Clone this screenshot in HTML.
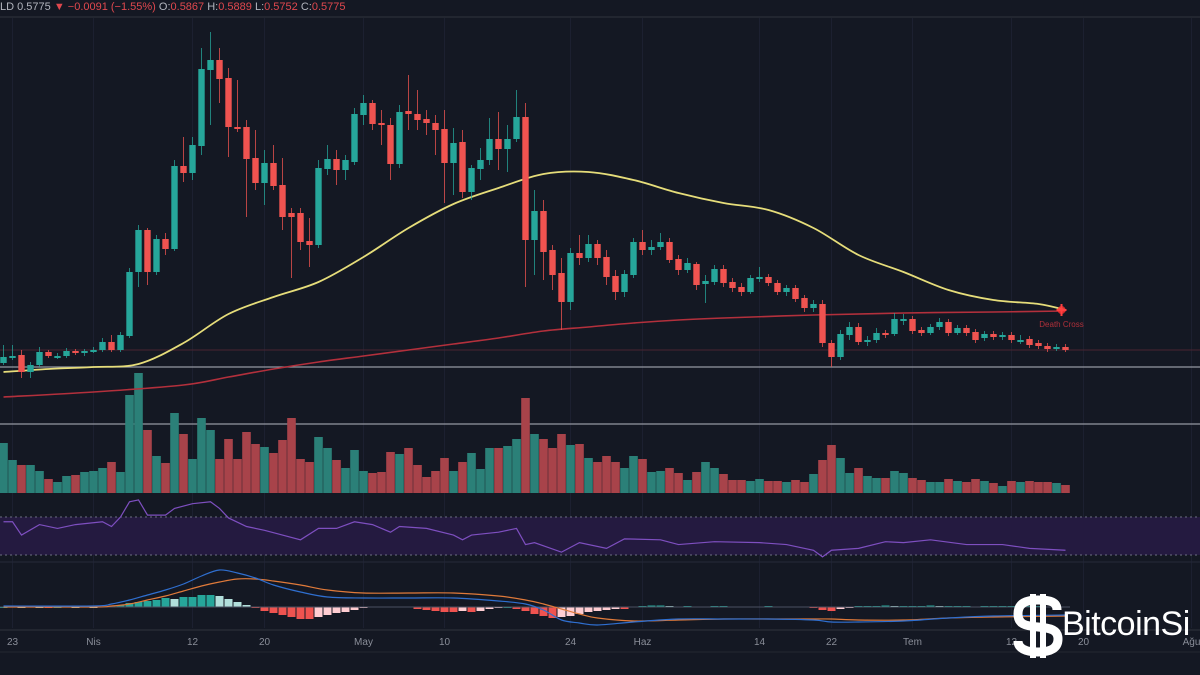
<!DOCTYPE html>
<html><head><meta charset="utf-8">
<style>
html,body{margin:0;padding:0;background:#141823;}
#wrap{position:relative;width:1200px;height:675px;overflow:hidden;background:#141823;font-family:"Liberation Sans",sans-serif;}
svg{position:absolute;left:0;top:0;}
#hdr{position:absolute;left:0;top:0;font-size:11px;color:#b2b5be;white-space:nowrap;line-height:14px;top:0px;}
#hdr .r{color:#e0484e;}
#logo{position:absolute;left:1013px;top:594px;color:#fff;}
#logo-text{position:absolute;left:1062px;top:605px;font-size:34px;color:#fff;letter-spacing:-0.5px;font-family:"Liberation Sans",sans-serif;}
</style></head>
<body>
<div id="wrap">
<svg id="chart" width="1200" height="675"></svg>
<div id="hdr">LD 0.5775 <span class="r">▼ −0.0091 (−1.55%)</span> O:<span class="r">0.5867</span> H:<span class="r">0.5889</span> L:<span class="r">0.5752</span> C:<span class="r">0.5775</span></div>
<svg id="logo" width="50" height="64" viewBox="0 0 50 64">
<rect x="17" y="0" width="6" height="64" fill="#fff"/><rect x="27" y="0" width="6" height="64" fill="#fff"/>
<path d="M44 16 C44 8 38 6 25 6 C10 6 5 11 5 20 C5 30 12 32 25 33 C38 34 45 36 45 45 C45 54 38 58 25 58 C12 58 5 54 5 47" fill="none" stroke="#fff" stroke-width="9"/>
</svg>
<div id="logo-text">BitcoinSi</div>
</div>
<script>
const opens=[.537,.543,.545,.528,.535,.548,.543,.544,.549,.547,.549,.550,.558,.550,.564,.628,.670,.628,.661,.651,.734,.727,.754,.830,.840,.822,.773,.773,.742,.717,.737,.715,.687,.687,.659,.655,.731,.741,.730,.738,.785,.797,.777,.775,.736,.789,.786,.781,.777,.771,.737,.758,.708,.731,.740,.761,.751,.761,.783,.660,.689,.650,.627,.598,.647,.642,.656,.643,.624,.608,.625,.658,.650,.653,.658,.641,.630,.636,.616,.618,.631,.618,.613,.608,.621,.623,.617,.608,.612,.602,.592,.596,.557,.543,.565,.573,.558,.560,.567,.566,.580,.581,.570,.567,.573,.578,.567,.572,.568,.562,.566,.563,.565,.560,.561,.557,.554,.552,.553];
const closes=[.543,.544,.528,.535,.548,.544,.544,.549,.547,.549,.550,.558,.550,.565,.628,.670,.628,.661,.651,.734,.727,.755,.831,.840,.821,.773,.771,.741,.717,.737,.714,.683,.683,.658,.655,.732,.741,.730,.740,.786,.797,.776,.776,.736,.788,.786,.780,.777,.770,.737,.757,.708,.732,.740,.761,.751,.761,.783,.660,.689,.648,.625,.598,.647,.642,.656,.642,.623,.608,.626,.658,.650,.653,.658,.640,.630,.637,.615,.619,.631,.617,.612,.608,.622,.623,.617,.608,.612,.601,.592,.596,.557,.543,.566,.573,.558,.560,.567,.565,.581,.581,.569,.567,.573,.578,.567,.572,.567,.560,.566,.563,.565,.560,.560,.555,.554,.551,.553,.550];
const highs=[.555,.555,.550,.538,.553,.550,.547,.552,.551,.551,.553,.562,.565,.568,.632,.675,.672,.665,.667,.740,.763,.763,.852,.868,.852,.832,.820,.780,.770,.750,.755,.742,.692,.692,.682,.740,.755,.750,.745,.792,.805,.800,.790,.782,.795,.825,.810,.790,.785,.790,.772,.770,.735,.752,.782,.788,.775,.810,.797,.710,.700,.655,.642,.652,.665,.665,.660,.650,.630,.630,.662,.670,.660,.667,.662,.645,.642,.638,.625,.635,.635,.622,.617,.625,.633,.626,.620,.615,.615,.605,.600,.600,.560,.570,.578,.577,.564,.572,.570,.587,.586,.584,.573,.576,.582,.581,.575,.575,.571,.569,.569,.568,.568,.565,.564,.560,.557,.556,.556];
const lows=[.535,.540,.522,.522,.533,.542,.541,.542,.545,.544,.547,.548,.548,.548,.562,.613,.615,.625,.645,.649,.718,.720,.745,.775,.797,.743,.768,.683,.710,.695,.710,.670,.622,.650,.633,.652,.725,.715,.720,.735,.775,.770,.755,.720,.732,.770,.770,.765,.745,.697,.705,.702,.700,.720,.735,.730,.728,.758,.613,.625,.620,.610,.570,.590,.635,.638,.635,.615,.600,.603,.622,.645,.645,.650,.637,.625,.627,.610,.597,.615,.613,.608,.604,.606,.618,.614,.605,.604,.598,.588,.588,.553,.533,.540,.560,.555,.554,.557,.562,.564,.575,.566,.564,.565,.570,.564,.565,.564,.557,.559,.560,.560,.557,.556,.552,.551,.548,.549,.548];
const volumes=[50,33,28,28,22,14,11,17,18,21,22,25,31,21,98,120,63,37,30,80,59,34,75,63,34,54,34,61,49,46,40,53,75,34,31,56,45,33,25,43,22,20,21,41,39,45,28,16,22,35,22,31,40,24,45,45,47,54,95,59,54,45,59,48,49,35,31,37,31,25,37,34,21,22,25,20,13,21,31,25,19,13,13,12,14,12,12,11,13,11,19,33,48,35,20,25,17,15,15,22,20,15,13,11,11,14,12,11,14,12,10,7,12,11,12,11,11,10,8];
const ma50Idx=[0,5,10,15,20,25,30,35,40,45,50,55,60,65,70,75,80,85,90,95,100,105,110,115,118];
const ma50Vals=[.528,.531,.533,.536,.557,.586,.603,.618,.643,.672,.696,.712,.726,.728,.720,.707,.697,.690,.672,.645,.628,.610,.600,.596,.590];
const ma200Idx=[0,10,20,25,30,35,40,45,50,55,60,65,70,75,80,90,100,110,118];
const ma200Vals=[.503,.508,.515,.523,.531,.538,.544,.550,.556,.562,.569,.573,.577,.580,.582,.585,.587,.588,.589];
const rsiIdx=[0,1,2,4,6,8,11,12,13,14,15,16,18,19,21,23,24,25,27,29,31,33,35,37,39,41,43,44,47,50,51,52,55,57,58,59,62,64,67,69,73,75,79,84,87,90,91,92,95,98,100,103,107,111,114,118];
const rsiVals=[65,65,51,62,58,62,65,60,70,86,88,72,72,79,84,86,79,69,60,56,51,46,58,58,65,62,54,60,58,51,46,51,54,58,41,43,33,43,37,47,46,41,44,43,41,35,28,35,37,44,43,46,41,41,37,35];
const macdIdx=[0,10,12,14,16,18,20,22,24,26,28,30,33,36,40,45,50,55,58,60,62,64,66,70,75,80,85,90,92,95,100,105,110,118];
const macdVals=[1,1,3,7,12,17,23,31,37,34,29,22,15,10,9,9,9,6,3,-3,-13,-16,-18,-15,-12,-12,-12,-13,-15,-15,-14,-11,-9,-8];
const signalVals=[0,0,1,3,7,11,16,21,25,28,28,26,22,17,14,14,14,11,7,3,-2,-7,-11,-14,-13,-12,-12,-12,-12,-13,-13,-11,-10,-9];
const histVals=[0,.5,0,.5,0,-.5,0,.5,0,.5,0,.5,1,2,4,5,6,7,9,8,10,10,12,12,11,8,5,2,-1,-4,-6,-8,-10,-12,-12,-10,-8,-6,-5,-3,-1,.5,.5,.5,.5,.5,-2,-3,-4,-5,-5,-4,-5,-4,-2,-1,0,-2,-4,-7,-9,-11,-10,-9,-7,-5,-4,-3,-2,-2,.5,1,1.5,1.5,1,.5,1,.5,.5,1,1,.5,.5,.5,.5,1,.5,.5,.5,.5,-1,-3,-4,-2,-1,1,1,1,1.5,1,1,1,1,1.5,1,1,1,1,.5,1,1,1,1,.5,1,1,.5,.5,.5];
const tickLabels=["23","Nis","12","20","May","10","24","Haz","14","22","Tem","12","20","Ağu"];
const tickIdx=[1,10,21,29,40,49,63,71,84,92,101,112,120,132];

const NS="http://www.w3.org/2000/svg";
const svg=document.getElementById('chart');
function el(tag,attrs,parent){const e=document.createElementNS(NS,tag);for(const k in attrs)e.setAttribute(k,attrs[k]);(parent||svg).appendChild(e);return e;}
const xOf=i=>3.5+9*i;
const yPrice=p=>900-1000*p;
const yVol=v=>493-v;
const yRsi=v=>517+(70-v)*0.95;
const yMacd=v=>607-v;
const UP="#26a69a",DN="#ef5350";

// grid
tickIdx.forEach((t,k)=>{const g=el('line',{x1:xOf(t),x2:xOf(t),y1:18,y2:628,stroke:'#1c2030','stroke-width':1});

});
// RSI band
const band=el('rect',{x:0,y:517,width:1200,height:38,fill:'#241a40'});


[517,555].forEach(y=>{const l=el('line',{x1:0,x2:1200,y1:y,y2:y,stroke:'#6b6f80','stroke-width':1,'stroke-dasharray':'2 3'});

});
// separators
[[17,'#2a2e39'],[367,'#9598a1'],[424,'#9598a1'],[562,'#232736'],[630,'#2a2e39'],[652,'#22262f']].forEach(a=>{const l=el('line',{x1:0,x2:1200,y1:a[0],y2:a[0],stroke:a[1],'stroke-width':1.2});

});
const pl=el('line',{x1:0,x2:1200,y1:yPrice(closes[closes.length-1]),y2:yPrice(closes[closes.length-1]),stroke:'#4a2430','stroke-width':1});



// volume
volumes.forEach((v,i)=>{const r=el('rect',{x:xOf(i)-4.3,y:yVol(v),width:8.6,height:v,fill:closes[i]>=opens[i]?'#2b8078':'#a8434a'});

});

function smooth(pts){let d='M'+pts[0][0]+' '+pts[0][1];for(let i=0;i<pts.length-1;i++){const p0=pts[i-1]||pts[i],p1=pts[i],p2=pts[i+1],p3=pts[i+2]||p2;
const c1=[p1[0]+(p2[0]-p0[0])/6,p1[1]+(p2[1]-p0[1])/6],c2=[p2[0]-(p3[0]-p1[0])/6,p2[1]-(p3[1]-p1[1])/6];
d+=` C${c1[0]} ${c1[1]} ${c2[0]} ${c2[1]} ${p2[0]} ${p2[1]}`;}return d;}

// MA lines
const m2=el('path',{d:smooth(ma200Idx.map((t,k)=>[xOf(t),yPrice(ma200Vals[k])])),fill:'none',stroke:'#b3303c','stroke-width':1.6});


const m1=el('path',{d:smooth(ma50Idx.map((t,k)=>[xOf(t),yPrice(ma50Vals[k])])),fill:'none',stroke:'#e6dd7a','stroke-width':1.8});



// candles
opens.forEach((o,i)=>{const c=closes[i],col=c>=o?UP:DN,x=xOf(i);
const w=el('line',{x1:x,x2:x,y1:yPrice(highs[i]),y2:yPrice(lows[i]),stroke:col,'stroke-width':1,opacity:.75});


const top=Math.min(yPrice(o),yPrice(c)),h=Math.max(2,Math.abs(yPrice(o)-yPrice(c)));
const b=el('rect',{x:x-3.2,y:top,width:6.4,height:h,fill:col});

});

// death cross
const dx=xOf(118),dy=yPrice(ma50Vals[ma50Vals.length-1]);
const cross=el('g',{});


el('circle',{cx:dx-4,cy:dy,r:4,fill:'#ff3030',opacity:.8},cross);
el('path',{d:`M${dx-9} ${dy} H${dx+1} M${dx-4} ${dy-6} V${dy+6}`,stroke:'#ff4040','stroke-width':2},cross);
const dt=el('text',{x:dx-4,y:dy+17,'font-size':8,fill:'#b0303a','text-anchor':'middle','font-family':'Liberation Sans, sans-serif'});
dt.textContent='Death Cross';



// RSI
const rs=el('path',{d:'M'+rsiIdx.map((t,k)=>xOf(t)+' '+yRsi(rsiVals[k])).join(' L'),fill:'none',stroke:'#7e4fc0','stroke-width':1.2});



// MACD hist
histVals.forEach((v,i)=>{const prev=i>0?histVals[i-1]:0;let col;
if(v>=0)col=v>=prev?'#26a69a':'#b2dfdb';else col=v<=prev?'#ef5350':'#ffcdd2';
const y0=yMacd(0),y1=yMacd(v);
const r=el('rect',{x:xOf(i)-4,y:Math.min(y0,y1),width:8,height:Math.max(1,Math.abs(y1-y0)),fill:col});

});
const zl=el('line',{x1:0,x2:1070,y1:yMacd(0),y2:yMacd(0),stroke:'#4a5060','stroke-width':1});


const sg=el('path',{d:smooth(macdIdx.map((t,k)=>[xOf(t),yMacd(signalVals[k])])),fill:'none',stroke:'#e07a3a','stroke-width':1.2});


const mc=el('path',{d:smooth(macdIdx.map((t,k)=>[xOf(t),yMacd(macdVals[k])])),fill:'none',stroke:'#2f6fd0','stroke-width':1.2});



// x-axis labels
tickLabels.forEach((s,k)=>{const t=el('text',{x:xOf(tickIdx[k]),y:645,'font-size':10,fill:'#8a8e99','text-anchor':'middle','font-family':'Liberation Sans, sans-serif'});
t.textContent=s;

});
</script>
</body></html>
